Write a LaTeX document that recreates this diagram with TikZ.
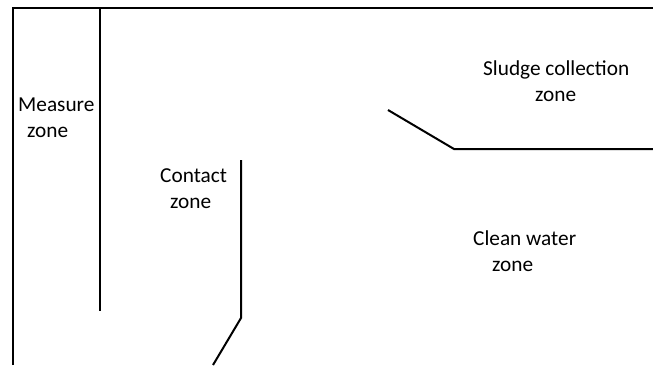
\documentclass[tikz,border=0pt]{standalone}
\usepackage{fontspec}
\setmainfont{Carlito}
\begin{document}
\begin{tikzpicture}[x=1pt,y=-1pt,
  wall/.style={line width=2pt,line cap=butt,line join=miter},
  lbl/.style={anchor=base west,inner sep=0pt,font=\fontsize{21.3}{25}\selectfont}]
\useasboundingbox (0,0) rectangle (653,365);
\coordinate (tl) at (13,8);
\coordinate (bl) at (13,365);
\coordinate (tr) at (653,8);
\coordinate (m1) at (100,8);
\coordinate (m2) at (100,311);
\coordinate (c1) at (241,160);
\coordinate (c2) at (241,318);
\coordinate (c3) at (213,365);
\coordinate (s1) at (388,110);
\coordinate (s2) at (454,149);
\coordinate (s3) at (653,149);
\draw[wall] (bl) -- (tl) -- (tr);
\draw[wall] (m1) -- (m2);
\draw[wall] (c1) -- (c2) -- (c3);
\draw[wall] (s1) -- (s2) -- (s3);
\node[lbl] (meas1) at (18,111) {Measure};
\node[lbl] (meas2) at (27,137) {zone};
\node[lbl] (cont1) at (160,182) {Contact};
\node[lbl] (cont2) at (170,208) {zone};
\node[lbl] (slud1) at (483,75) {Sludge collection};
\node[lbl] (slud2) at (535,101) {zone};
\node[lbl] (clean1) at (473,245) {Clean water};
\node[lbl] (clean2) at (492,271) {zone};
\end{tikzpicture}
\end{document}
